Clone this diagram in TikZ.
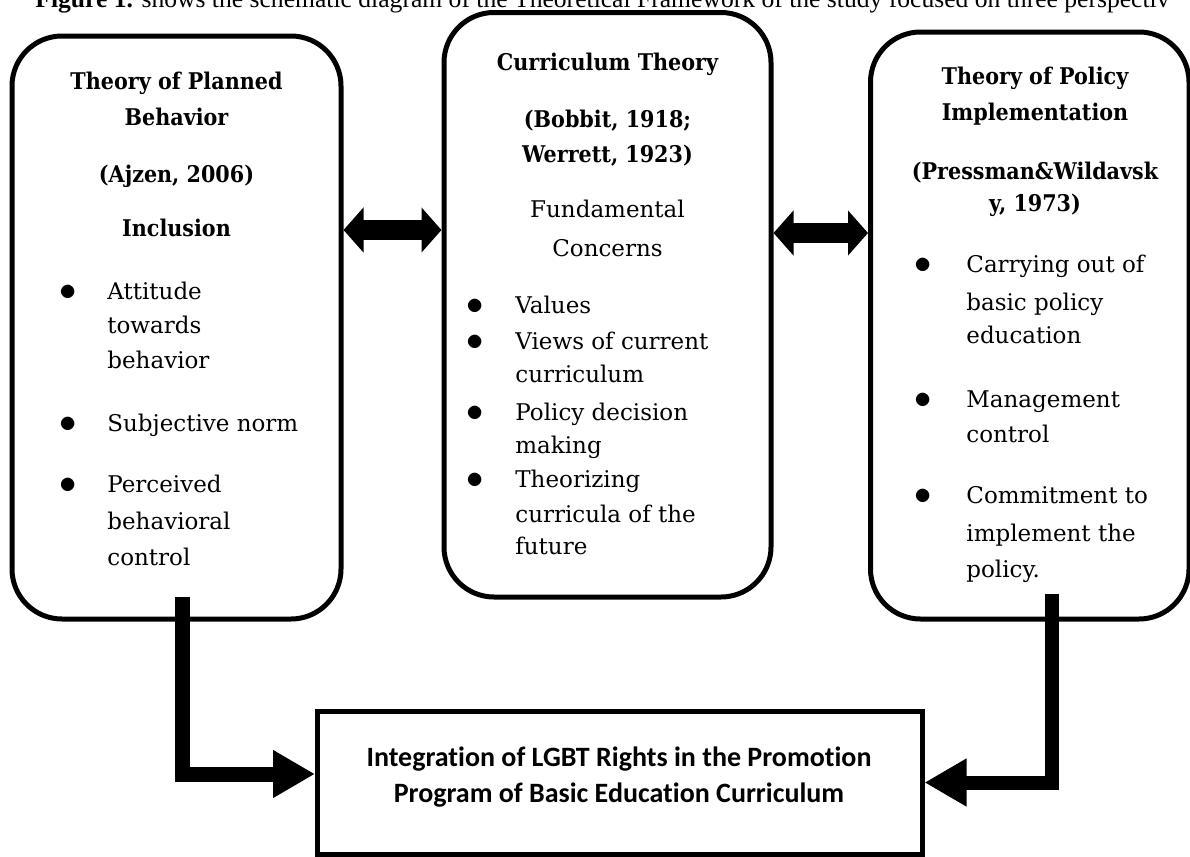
\documentclass[tikz,border=0pt]{standalone}
\usepackage{fontspec}
\usetikzlibrary{arrows.meta}
\newfontfamily\capfont{Liberation Serif}
\newfontfamily\calfont{Carlito}[Ligatures=NoCommon]
\newfontfamily\serfont{DejaVu Serif}
\newfontfamily\hdfont{DejaVu Serif}[FakeStretch=0.9]
\tikzset{
 box/.style={draw, line width=2.5pt, rounded corners=25pt, inner sep=0pt},
 rect/.style={draw, line width=2.5pt, inner sep=0pt},
 hd/.style={anchor=base, inner sep=0pt, font=\hdfont\bfseries\fontsize{11.5}{14}\selectfont},
 bd/.style={anchor=base west, inner sep=0pt, font=\serfont\fontsize{11.5}{14}\selectfont},
 bc/.style={anchor=base, inner sep=0pt, font=\serfont\fontsize{11.5}{14}\selectfont},
 bul/.style={anchor=base, inner sep=0pt, font=\fontsize{16}{18}\selectfont},
 sans/.style={anchor=base, inner sep=0pt, font=\calfont\bfseries\fontsize{14}{16}\selectfont},
 conn/.style={line width=7.5pt, line join=miter, -{Triangle[length=21pt,width=22.5pt]}},
 dbl/.style={line width=10pt, {Triangle[length=10pt,width=22pt]}-{Triangle[length=10pt,width=22pt]}},
}
\begin{document}
\begin{tikzpicture}[x=0.5pt, y=-0.5pt]
\useasboundingbox (0,0) rectangle (1190,857);
% caption (cut off at the top, as in the source)
\node[anchor=base west, inner sep=0pt, font=\capfont\fontsize{12.8}{15}\selectfont] (cap) at (35,7)
 {\textbf{Figure 1.} shows the schematic diagram of the Theoretical Framework of the study focused on three perspectiv};
% boxes
\node[box, minimum width=164.5pt, minimum height=291.5pt] (L) at (176.5,327.5) {};
\node[box, minimum width=163.5pt, minimum height=292.25pt] (C) at (607.5,304.75) {};
\node[box, minimum width=159.25pt, minimum height=293.5pt] (R) at (1029.75,325.5) {};
\node[rect, minimum width=302.25pt, minimum height=71.5pt] (B) at (619.75,782.5) {};
% left box text
\node[hd] (l1) at (176.5,89) {Theory of Planned};
\node[hd] (l2) at (176.5,125) {Behavior};
\node[hd] (l3) at (176.5,182) {(Ajzen, 2006)};
\node[hd] (l4) at (176.5,236) {Inclusion};
\node[bul] (lb1) at (68,300) {$\bullet$};
\node[bd] (l5) at (107,299) {Attitude};
\node[bd] (l6) at (107,333.5) {towards};
\node[bd] (l7) at (107,368) {behavior};
\node[bul] (lb2) at (68,432) {$\bullet$};
\node[bd] (l8) at (107,431) {Subjective norm};
\node[bul] (lb3) at (68,493) {$\bullet$};
\node[bd] (l9) at (107,492) {Perceived};
\node[bd] (l10) at (107,529) {behavioral};
\node[bd] (l11) at (107,565) {control};
% centre box text
\node[hd] (c1) at (607.5,70) {Curriculum Theory};
\node[hd] (c2) at (607.5,127.5) {(Bobbit, 1918;};
\node[hd] (c3) at (607.5,162) {Werrett, 1923)};
\node[bc] (c4) at (607.5,217.5) {Fundamental};
\node[bc] (c5) at (607.5,256) {Concerns};
\node[bul] (cb1) at (475,314) {$\bullet$};
\node[bd] (c6) at (515,313) {Values};
\node[bul] (cb2) at (475,350.5) {$\bullet$};
\node[bd] (c7) at (515,349.5) {Views of current};
\node[bd] (c8) at (515,382) {curriculum};
\node[bul] (cb3) at (475,421) {$\bullet$};
\node[bd] (c9) at (515,420) {Policy decision};
\node[bd] (c10) at (515,453) {making};
\node[bul] (cb4) at (475,488) {$\bullet$};
\node[bd] (c11) at (515,487) {Theorizing};
\node[bd] (c12) at (515,522) {curricula of the};
\node[bd] (c13) at (515,554) {future};
% right box text
\node[hd] (r1) at (1035,84) {Theory of Policy};
\node[hd] (r2) at (1035,120) {Implementation};
\node[hd] (r3) at (1035,179) {(Pressman\&Wildavsk};
\node[hd] (r4) at (1035,211) {y, 1973)};
\node[bul] (rb1) at (923,273) {$\bullet$};
\node[bd] (r5) at (966,272) {Carrying out of};
\node[bd] (r6) at (966,310) {basic policy};
\node[bd] (r7) at (966,343) {education};
\node[bul] (rb2) at (923,408) {$\bullet$};
\node[bd] (r8) at (966,407) {Management};
\node[bd] (r9) at (966,442) {control};
\node[bul] (rb3) at (923,504) {$\bullet$};
\node[bd] (r10) at (966,503) {Commitment to};
\node[bd] (r11) at (966,541) {implement the};
\node[bd] (r12) at (966,577) {policy.};
% bottom box text
\node[sans] (b1) at (619,766) {Integration of LGBT Rights in the Promotion};
\node[sans] (b2) at (619,802) {Program of Basic Education Curriculum};
% double arrows
\coordinate (da1) at (0,230);
\draw[dbl] (L.east |- da1) -- (C.west |- da1);
\coordinate (da2) at (0,233);
\draw[dbl] (C.east |- da2) -- (R.west |- da2);
% connectors to the bottom box
\coordinate (ls) at (182.5,597);
\draw[conn] (ls) |- ([yshift=4.25pt]B.west);
\coordinate (rs) at (1052,594);
\draw[conn, line width=7pt] (rs) |- (B.east);
\end{tikzpicture}
\end{document}
